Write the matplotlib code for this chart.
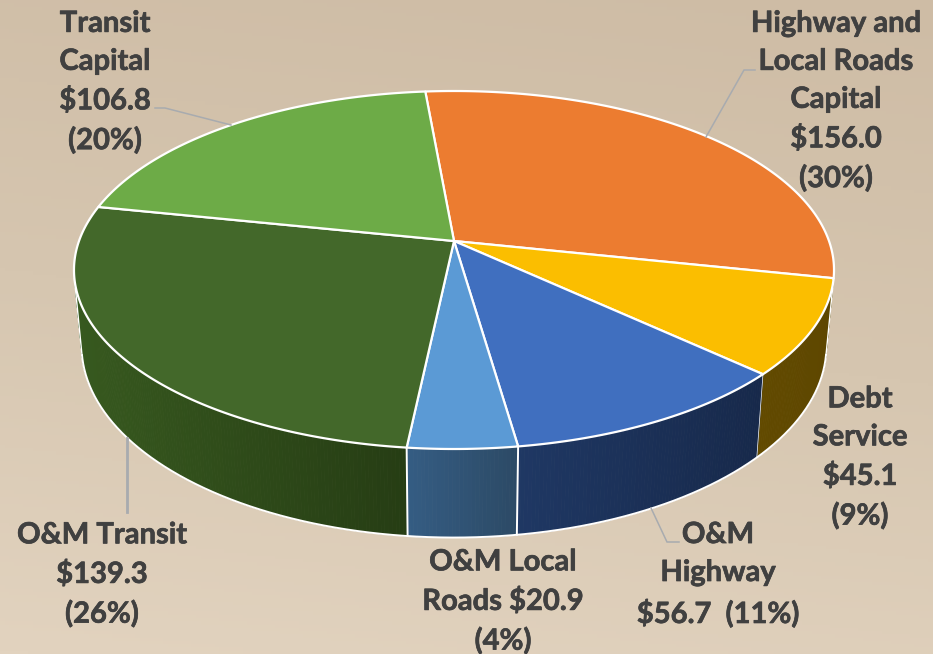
import numpy as np
import matplotlib
matplotlib.use("Agg")
import matplotlib.pyplot as plt
import matplotlib.patheffects as pe
from matplotlib.colors import LinearSegmentedColormap, to_rgb

# ---- data ----
names = ["Highway and\nLocal Roads\nCapital", "Debt\nService", "O&M\nHighway",
         "O&M Local\nRoads", "O&M Transit", "Transit\nCapital"]
values = [156.0, 45.1, 56.7, 20.9, 139.3, 106.8]
percents = [30, 9, 11, 4, 26, 20]
label_formats = ["{n}\n${v:.1f}\n({p}%)", "{n}\n${v:.1f}\n({p}%)", "{n}\n${v:.1f}  ({p}%)",
                 "{n} ${v:.1f}\n({p}%)", "{n}\n${v:.1f}\n({p}%)", "{n}\n${v:.1f}\n({p}%)"]

# ---- style ----
top_colors = ["#EC7C30", "#FBBE00", "#406FBF", "#5B9AD5", "#43682A", "#6DAB47"]
side_left = ["#7a3e14", "#624A00", "#1F3864", "#355D84", "#37591F", "#365B20"]
side_right = ["#7a3e14", "#5E4700", "#17294B", "#2C4A66", "#263D14", "#365B20"]
label_xy = [(836, 101.5), (860, 458), (718, 575), (503, 602), (102, 575), (105, 82.5)]
leaders = [[(755, 70), (744, 70), (706, 137)],
           [(651, 508), (667, 542), (679, 542)],
           [(127, 438), (127, 512)],
           [(155, 108), (165, 108), (231, 125)]]
leader_w = [1.1, 1.1, 2.0, 1.1]
W, H = 947, 654
CX, CY = 454, 241
A, B, K = 375.0, 174.3, 0.162
START = -5.1
DROP, SX, SY = 74.0, 0.98, 1.07


def top(deg):
    t = np.radians(deg)
    x, y = np.sin(t), -np.cos(t)
    w = 1 - K * y
    return A * x / w, B * y / w


def topxy(deg):
    sx, sy = top(deg)
    return CX + sx, CY + sy


def botxy(deg):
    sx, sy = top(deg)
    return CX + SX * sx, CY + DROP + SY * sy


plt.rcParams["font.family"] = ["Lato", "DejaVu Sans"]
fig = plt.figure(figsize=(W / 100, H / 100), dpi=100, facecolor="white")
ax = fig.add_axes([0, 0, 1, 1])
ax.set_xlim(0, W)
ax.set_ylim(H, 0)
ax.axis("off")

# background
bg = LinearSegmentedColormap.from_list("bg", ["#CEBCA5", "#D6C6B0", "#E2D3BF"])
gy, gx = np.mgrid[0:1:200j, 0:1:200j]
ax.imshow(0.85 * gy + 0.15 * (1 - gx), cmap=bg, extent=(0, 933, H, 0), aspect="auto", zorder=0,
          vmin=0, vmax=1)
ax.set_xlim(0, W)
ax.set_ylim(H, 0)

total = sum(values)
edges = START + np.concatenate([[0], np.cumsum(values)]) / total * 360

# side wall
VIS0, VIS1 = edges[1], 258.0
for i in range(len(values)):
    a0, a1 = max(edges[i], VIS0), min(edges[i + 1], VIS1)
    if a1 <= a0:
        continue
    angs = np.arange(a0, a1 + 0.5, 0.5)
    angs[-1] = a1
    xs = topxy(angs)[0]
    lo, hi = xs.max(), xs.min()
    cr, cl = np.array(to_rgb(side_right[i])), np.array(to_rgb(side_left[i]))
    for j in range(len(angs) - 1):
        p, q = angs[j], angs[j + 1]
        f = (xs[j] - hi) / max(lo - hi, 1)
        col = cl + (cr - cl) * f
        quad = [topxy(p), topxy(q), botxy(q), botxy(p)]
        ax.fill(*zip(*quad), color=col, lw=0.6, zorder=2)

# side edges
rim = np.linspace(VIS0, VIS1, 300)
ax.plot(*botxy(rim), color="white", lw=1.4, zorder=3)
for a in (VIS0, VIS1):
    ax.plot([topxy(a)[0], botxy(a)[0]], [topxy(a)[1], botxy(a)[1]], color="white", lw=1.0, zorder=3)
for i, a in enumerate(edges[1:-1]):
    if VIS0 < a < VIS1:
        ax.plot([topxy(a)[0], botxy(a)[0]], [topxy(a)[1], botxy(a)[1]], color="white",
                lw=1.4 if i in (2, 3) else 0.5, zorder=3)

# top surface
for i in range(len(values)):
    angs = np.linspace(edges[i], edges[i + 1], 200)
    x, y = topxy(angs)
    ax.fill(np.r_[CX, x], np.r_[CY, y], facecolor=top_colors[i], edgecolor="white", lw=1.6,
            joinstyle="round", zorder=4)

# leaders
for pts, w in zip(leaders, leader_w):
    ax.plot(*zip(*pts), color="#A8ABAF", lw=w, zorder=5, solid_joinstyle="miter")

# labels
for i in range(len(values)):
    txt = label_formats[i].format(n=names[i], v=values[i], p=percents[i])
    t = ax.text(*label_xy[i], txt, ha="center", va="center", ma="center", fontsize=21,
                fontweight="bold", color="#404040", linespacing=1.57, zorder=6)
    t.set_path_effects([pe.withStroke(linewidth=0.5, foreground="#404040")])

fig.savefig("out.png", dpi=100, facecolor="white")
